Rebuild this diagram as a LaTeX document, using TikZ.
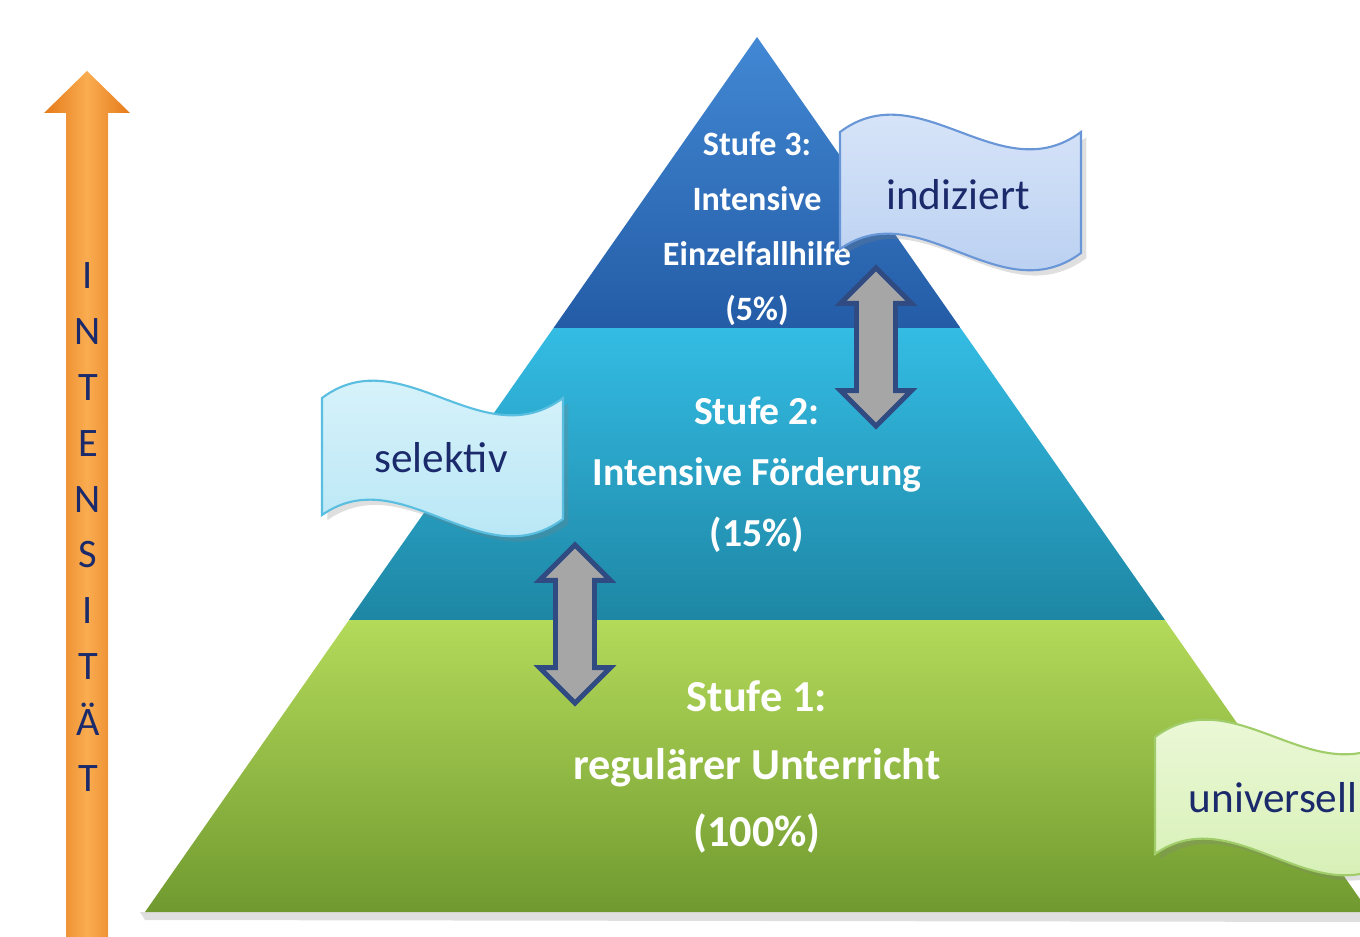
\documentclass[tikz,border=0pt]{standalone}
\usepackage{fontspec}
\setmainfont{Carlito}
\usetikzlibrary{shapes.arrows,shadows,positioning}

\definecolor{navytext}{RGB}{27,42,107}
\definecolor{arrowgray}{RGB}{166,166,166}
\definecolor{arrowrim}{RGB}{47,75,130}
\definecolor{orangedark}{RGB}{228,122,26}
\definecolor{orangelight}{RGB}{250,172,80}

\tikzset{
  flagblue/.style={top color={rgb,255:red,222;green,233;blue,250}, bottom color={rgb,255:red,180;green,204;blue,240}, draw={rgb,255:red,105;green,150;blue,215}},
  flagcyan/.style={top color={rgb,255:red,222;green,245;blue,252}, bottom color={rgb,255:red,178;green,228;blue,244}, draw={rgb,255:red,90;green,190;blue,225}},
  flaggreen/.style={top color={rgb,255:red,240;green,250;blue,222}, bottom color={rgb,255:red,210;green,238;blue,175}, draw={rgb,255:red,160;green,205;blue,105}},
  waveflag/.pic={
    \shade[#1, line width=0.6pt, drop shadow={opacity=0.25, shadow xshift=1.5pt, shadow yshift=-1.5pt}]
      (0,0) .. controls (80,-60) and (160,60) .. (241,0) -- (241,121)
      .. controls (160,181) and (80,61) .. (0,117) -- cycle;
  }
}

\begin{document}
\begin{tikzpicture}[x=0.01cm, y=-0.01cm,
  bandtext/.style={text=white, align=center, inner sep=0pt},
  flagtext/.style={text=navytext, font=\fontsize{12.3}{14}\selectfont, inner sep=0pt},
  updown/.style={double arrow, rotate=90, fill=arrowgray, draw=arrowrim, line width=1.4pt,
    minimum height=1.58cm, double arrow head extend=0.16cm, inner xsep=0pt, inner ysep=0.17cm}]
\clip (0,0) rectangle (1360,937);

% pyramid
\coordinate (apex) at (757,37);
\fill[gray!25] (140,912) -- (1380,912) -- (1380,922) -- (145,920) -- cycle;
\shade[top color={rgb,255:red,180;green,218;blue,90}, bottom color={rgb,255:red,112;green,154;blue,48}]
  (349,620) -- (1165,620) -- (1369,912) -- (145,912) -- cycle;
\shade[top color={rgb,255:red,52;green,188;blue,228}, bottom color={rgb,255:red,30;green,134;blue,164}]
  (553.5,328) -- (960.5,328) -- (1165,620) -- (349,620) -- cycle;
\shade[top color={rgb,255:red,66;green,136;blue,212}, bottom color={rgb,255:red,36;green,92;blue,166}]
  (apex) -- (960.5,328) -- (553.5,328) -- cycle;

% intensity arrow
\shade[left color=orangedark, right color=orangedark, middle color=orangelight]
  (66,960) -- (66,113) -- (44,113) -- (87,71) -- (130,113) -- (108,113) -- (108,960) -- cycle;
\node[text=navytext, align=center, font=\fontsize{11.5}{15.9}\selectfont] (intensity) at (88,527)
  {I\\N\\T\\E\\N\\S\\I\\T\\Ä\\T};

% stage texts
\node[bandtext, font=\fontsize{9.7}{15.6}\selectfont\bfseries] (stage3) at (757,229)
  {Stufe 3:\\Intensive\\Einzelfallhilfe\\(5\%)};
\node[bandtext, font=\fontsize{11.3}{17.4}\selectfont\bfseries] (stage2) at (757,475)
  {Stufe 2:\\Intensive Förderung\\(15\%)};
\node[bandtext, font=\fontsize{12.6}{19.3}\selectfont\bfseries] (stage1) at (757,767)
  {Stufe 1:\\regulärer Unterricht\\(100\%)};

% flags
\pic at (840,132) {waveflag=flagblue};
\node[flagtext] (indiziert) at (958,195) {indiziert};
\pic at (322,398) {waveflag=flagcyan};
\node[flagtext] (selektiv) at (441,458) {selektiv};
\pic at (1155,737) {waveflag=flaggreen};
\node[flagtext] (universell) at (1273,798) {universell};

% transitions
\node[updown] (shift23) at (876,347) {};
\node[updown] (shift12) at (575,624) {};
\end{tikzpicture}
\end{document}
